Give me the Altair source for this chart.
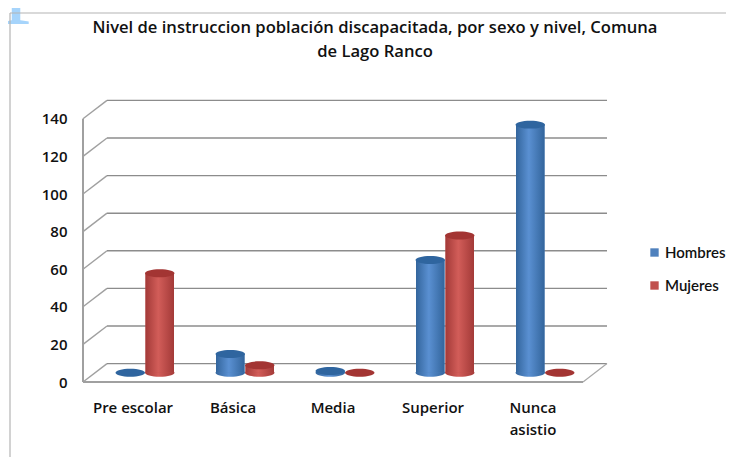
import altair as alt
import pandas as pd

categorias = ["Pre escolar", "Básica", "Media", "Superior", "Nunca\nasistio"]
hombres = [0, 10, 1, 60, 132]
mujeres = [53, 4, 0, 73, 0]
ticks = [0, 20, 40, 60, 80, 100, 120, 140]
titulo = "Nivel de instruccion población discapacitada, por sexo y nivel, Comuna\nde Lago Ranco"

FONT = "Open Sans"
DX, DY = 0.24, 9.8           # depth of the pseudo-3D box in data units
BAR_W = 0.295
COLORS = {"Hombres": "#4f81bd", "Mujeres": "#c0504d"}
DARK = {"Hombres": "#2f659f", "Mujeres": "#a33533"}
EDGE = {"Hombres": "#33659c", "Mujeres": "#a33a38"}
LIGHT = {"Hombres": "#5a90d2", "Mujeres": "#d25d59"}

rows = []
for i, c in enumerate(categorias):
    for sign, sexo, vals in ((-1, "Hombres", hombres), (0, "Mujeres", mujeres)):
        left = i + 0.5 + DX / 2 + sign * BAR_W
        rows.append(dict(sexo=sexo, x0=left + 0.005, x1=left + BAR_W - 0.005, xc=left + BAR_W / 2,
                         base=DY / 2, top=vals[i] + DY / 2))
df = pd.DataFrame(rows)

xs = alt.Scale(domain=[0, 5.24], nice=False, zero=False)
ys = alt.Scale(domain=[0, 150], nice=False, zero=False)
X = lambda f: alt.X(f, type="quantitative", scale=xs, axis=None, title=None)
Y = lambda f: alt.Y(f, type="quantitative", scale=ys, title=None,
                    axis=alt.Axis(values=ticks, domain=False, ticks=False, grid=False, labelPadding=16,
                                  labelFont=FONT, labelFontSize=15, labelColor="#111", labelFontWeight=600))

GRID = "#8c8c8c"
back = pd.DataFrame([dict(v=t, a=DX, b=5 + DX, y=t + DY) for t in ticks])
grid = alt.Chart(back).mark_rule(color=GRID, strokeWidth=1.4).encode(
    x=X("a"), x2="b", y=Y("y"))

diag = pd.DataFrame([r for t in ticks for r in (dict(v=t, x=0, y=t), dict(v=t, x=DX, y=t + DY))])
diagonals = alt.Chart(diag).mark_line(color="#a0a0a0", strokeWidth=1.4).encode(
    x=X("x"), y=Y("y"), detail="v:N")
right = pd.DataFrame([dict(x=5, y=0), dict(x=5 + DX, y=DY)])
floor_side = alt.Chart(right).mark_line(color="#a8a8a8", strokeWidth=1.2).encode(x=X("x"), y=Y("y"))
front_floor = alt.Chart(pd.DataFrame([dict(a=0, b=5, y=0)])).mark_rule(color="#a0a0a0", strokeWidth=2).encode(
    x=X("a"), x2="b", y=Y("y"))
front_wall = alt.Chart(pd.DataFrame([dict(x=0, a=0, b=140)])).mark_rule(color="#a0a0a0", strokeWidth=2).encode(
    x=X("x"), y=Y("a"), y2="b")

ELLIPSE = "M-1,0A1,0.27,0,1,1,1,0A1,0.27,0,1,1,-1,0Z"
SIZE = 29.5 ** 2


def grad(s):
    return alt.Gradient(gradient="linear", x1=0, x2=1, y1=0, y2=0, stops=[
        alt.GradientStop(offset=0, color=EDGE[s]),
        alt.GradientStop(offset=0.45, color=LIGHT[s]),
        alt.GradientStop(offset=1, color=EDGE[s]),
    ])


layers = [grid, diagonals, floor_side, front_floor, front_wall]
color = alt.Color("sexo:N", scale=alt.Scale(domain=list(COLORS), range=list(COLORS.values())),
                  legend=alt.Legend(title=None, orient="none", legendX=564, legendY=145, symbolType="square",
                                    symbolSize=70, labelFont="Lato", labelFontSize=15, labelColor="#111",
                                    labelFontWeight=600, labelOffset=3, rowPadding=17, symbolStrokeWidth=0))
for s in COLORS:
    d = df[df.sexo == s]
    tall = d[d.top - d.base > 0]
    layers += [
        alt.Chart(tall).mark_point(shape=ELLIPSE, size=SIZE, filled=True, opacity=1, fill=grad(s), strokeWidth=0).encode(
            x=X("xc"), y=Y("base")),
        alt.Chart(tall).mark_bar().encode(x=X("x0"), x2="x1", y=Y("base"), y2="top", color=color),
        alt.Chart(tall).mark_bar(fill=grad(s)).encode(x=X("x0"), x2="x1", y=Y("base"), y2="top"),
        alt.Chart(d).mark_point(shape=ELLIPSE, size=SIZE, filled=True, opacity=1, fill=DARK[s], strokeWidth=0).encode(
            x=X("xc"), y=Y("top")),
    ]

cat_df = pd.DataFrame(dict(x=[i + 0.5 for i in range(len(categorias))], c=categorias))
labels = alt.Chart(cat_df).mark_text(font=FONT, fontSize=15, fontWeight=600, color="#111", baseline="top",
                                     lineBreak="\n", lineHeight=22).encode(
    x=X("x"), y=alt.value(301), text="c:N")

one = pd.DataFrame(dict(k=[1]))
frame_v = alt.Chart(one).mark_rule(color="#b4b4b4", strokeWidth=1.2).encode(
    x=alt.value(-73), y=alt.value(-87), y2=alt.value(357))
frame_h = alt.Chart(one).mark_rule(color="#b4b4b4", strokeWidth=1.2).encode(
    x=alt.value(-73), x2=alt.value(643), y=alt.value(-87))
water = alt.Chart(one).mark_text(text="p", font="Liberation Serif", fontSize=105, color="#a6d4fb",
                                 align="left", baseline="alphabetic").encode(
    x=alt.value(-79), y=alt.value(-99))
title = alt.Chart(one).mark_text(text=titulo, font=FONT, fontSize=16.6, fontWeight=600, color="#111",
                                 align="center", baseline="top", lineBreak="\n", lineHeight=24).encode(
    x=alt.value(292), y=alt.value(-80))

chart = alt.layer(water, frame_v, frame_h, title, *layers, labels).properties(
    width=524, height=282,
    padding={"left": 75, "top": 92, "right": 119, "bottom": 75},
    autosize=alt.AutoSizeParams(type="none"),
).configure_view(stroke=None)

chart.save("out.html", embed_options={"renderer": "svg", "actions": False})
